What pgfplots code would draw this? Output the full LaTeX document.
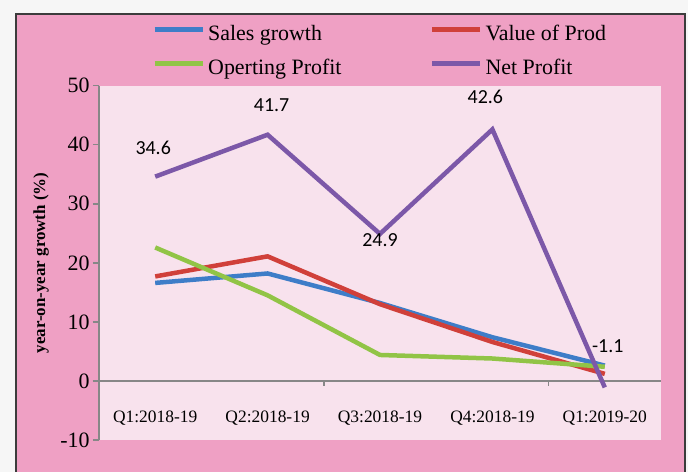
\documentclass[border=0pt]{standalone}
\usepackage{pgfplots}
\pgfplotsset{compat=1.18}
\usepackage{fontspec}
\setmainfont{Liberation Serif}
\newfontfamily\lblfont{Carlito}

\definecolor{outerwhite}{RGB}{246,246,246}
\definecolor{framegray}{RGB}{60,60,60}
\definecolor{outerpink}{RGB}{239,160,196}
\definecolor{innerpink}{RGB}{248,226,237}
\definecolor{salesblue}{RGB}{62,125,200}
\definecolor{prodred}{RGB}{208,64,58}
\definecolor{opgreen}{RGB}{145,196,70}
\definecolor{netpurple}{RGB}{124,88,168}
\definecolor{axisgray}{RGB}{135,135,135}

\begin{document}
\begin{tikzpicture}
\useasboundingbox (-99bp,-32bp) rectangle (589bp,440bp);
\fill[outerwhite] (-99bp,-32bp) rectangle (589bp,440bp);
\filldraw[fill=outerpink, draw=framegray, line width=1.5bp] (-83bp,-60bp) rectangle (586bp,426bp);

\begin{axis}[
    at={(0,0)}, anchor=south west,
    scale only axis, width=562bp, height=354.3bp,
    xmin=-0.5, xmax=4.5, ymin=-10, ymax=50,
    axis background/.style={fill=innerpink},
    axis x line*=bottom, axis y line*=left,
    x axis line style={draw=none},
    y axis line style={-, axisgray, line width=1.5bp},
    xtick={0,...,4},
    xticklabels={Q1:2018-19, Q2:2018-19, Q3:2018-19, Q4:2018-19, Q1:2019-20},
    xtick style={draw=none},
    xticklabel style={font=\fontsize{17.5}{20}\selectfont, anchor=center, yshift=27.5bp},
    ytick={-10,0,...,50},
    ytick style={axisgray, line width=1.5bp},
    tick align=outside, major tick length=6bp,
    yticklabel style={font=\fontsize{22}{24}\selectfont},
    /pgf/number format/assume math mode=true,
    extra y ticks={0}, extra y tick labels={},
    extra y tick style={grid=major, major grid style={axisgray, line width=2bp}},
    ylabel={\bfseries year-on-year growth (\%)},
    ylabel style={font=\fontsize{17}{19}\selectfont, at={(axis description cs:-0.103,0.5)}, anchor=center},
    clip=false,
    legend columns=2, legend cell align=left,
    legend style={at={(axis description cs:0.0943,1)}, anchor=north west, yshift=61bp,
        draw=none, fill=none, inner sep=0pt,
        font=\fontsize{22}{24}\selectfont,
        nodes={inner sep=0pt, text height=16bp, text depth=5bp},
        row sep=13bp,
        /tikz/every odd column/.append style={column sep=3bp},
        /tikz/every even column/.append style={column sep=88bp}},
    legend image code/.code={\draw[#1, line width=5bp] (0bp,6bp) -- (48bp,6bp);},
]

% small ticks on the zero line
\draw[axisgray, line width=1.5bp] (axis cs:1.5,0) -- ([yshift=-5bp]axis cs:1.5,0);
\draw[axisgray, line width=1.5bp] (axis cs:3.5,0) -- ([yshift=-5bp]axis cs:3.5,0);

% Sales growth
\addplot[salesblue, line width=4.5bp] coordinates {
    (0,16.6) (1,18.2) (2,13.2) (3,7.4) (4,2.6)
};
\addlegendentry{Sales growth}

% Value of Prod
\addplot[prodred, line width=4.5bp] coordinates {
    (0,17.7) (1,21.1) (2,13.0) (3,6.6) (4,1.2)
};
\addlegendentry{Value of Prod}

% Operting Profit
\addplot[opgreen, line width=4.5bp] coordinates {
    (0,22.6) (1,14.5) (2,4.4) (3,3.8) (4,2.4)
};
\addlegendentry{Operting Profit}

% Net Profit, with labels
\addplot[netpurple, line width=4.5bp,
    nodes near coords, point meta=explicit symbolic,
    visualization depends on={value \thisrow{dx} \as \labdx},
    visualization depends on={value \thisrow{dy} \as \labdy},
    every node near coord/.style={anchor=center, xshift=\labdx bp, yshift=\labdy bp,
        font=\lblfont\fontsize{20}{22}\selectfont, text=black}]
    table[x=x, y=y, meta=lbl] {
x y dx dy lbl
0 34.6 -2 29 34.6
1 41.7 4 30 41.7
2 24.9 0 -6 24.9
3 42.6 -7 33 42.6
4 -1.1 3 41 -1.1
};
\addlegendentry{Net Profit}

\end{axis}
\end{tikzpicture}
\end{document}
